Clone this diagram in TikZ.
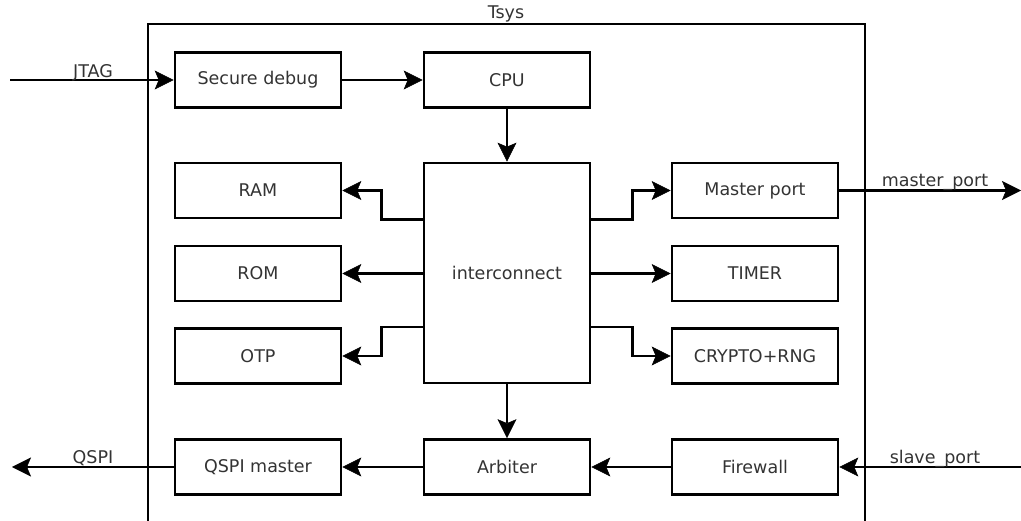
\documentclass[tikz,border=0pt]{standalone}
\usepackage{fontspec}
\setmainfont{DejaVu Sans}
\usetikzlibrary{arrows.meta}
\begin{document}
\begin{tikzpicture}[x=1pt,y=-1pt,
  txt/.style={font=\fontsize{17.5}{21}\selectfont,text=black!80},
  blk/.style={draw,line width=2.6pt,minimum width=166pt,minimum height=55pt,inner sep=0pt,txt},
  arr/.style={line width=2.6pt,-{Stealth[length=19pt,width=19pt,inset=4pt,fill=black,line width=0.5pt]}},
  lbl/.style={txt,anchor=base,inner sep=0pt}]
\useasboundingbox (0,0) rectangle (1021,521);
% enclosing system box
\draw[line width=2.6pt] (148,521) -- (148,24) -- (865,24) -- (865,521);
\node[lbl] (tsys) at (506,19) {Tsys};
% blocks
\node[blk] (sd)  at (258,80)    {Secure debug};
\node[blk] (cpu) at (507,80)    {CPU};
\node[blk] (ram) at (258,190.5) {RAM};
\node[blk] (rom) at (258,273.5) {ROM};
\node[blk] (otp) at (258,356)   {OTP};
\node[blk,minimum height=220pt] (ic) at (507,273) {interconnect};
\node[blk] (mp)  at (755,190.5) {Master port};
\node[blk] (tim) at (755,273.5) {TIMER};
\node[blk] (cry) at (755,356)   {CRYPTO+RNG};
\node[blk] (qm)  at (258,467)   {QSPI master};
\node[blk] (arb) at (507,467)   {Arbiter};
\node[blk] (fw)  at (755,467)   {Firewall};
% free ends
\coordinate (jtagL) at (10,80);
\coordinate (mpR) at (1021,190.5);
\coordinate (qspiL) at (12,467);
\coordinate (spR) at (1021,467);
% connectors
\draw[arr] (jtagL) -- (sd.west);
\node[lbl] (jtag) at (93,78) {JTAG};
\draw[arr] (sd) -- (cpu);
\draw[arr] (cpu) -- (ic);
\draw[arr] (ic.west |- ram.south) -- ++(-41,0) |- (ram.east);
\draw[arr] (ic.west |- rom) -- (rom.east);
\draw[arr] (ic.west |- otp.north) -- ++(-41,0) |- (otp.east);
\draw[arr] (ic.east |- mp.south) -- ++(41,0) |- (mp.west);
\draw[arr] (ic.east |- tim) -- (tim.west);
\draw[arr] (ic.east |- cry.north) -- ++(41,0) |- (cry.west);
\draw[arr] (ic) -- (arb);
\draw[arr] (arb) -- (qm);
\draw[arr] (fw) -- (arb);
\draw[arr] (mp.east) -- (mpR);
\node[lbl] (mpl) at (935,187) {master\_port};
\draw[arr] (qm.west) -- (qspiL);
\node[lbl] (qspi) at (93,464) {QSPI};
\draw[arr] (spR) -- (fw.east);
\node[lbl] (spl) at (935,464) {slave\_port};
\end{tikzpicture}
\end{document}
